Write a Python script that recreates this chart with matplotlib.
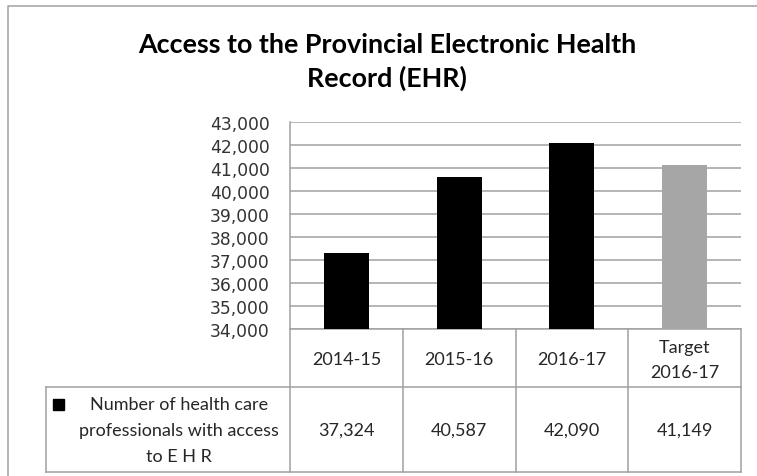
import matplotlib
matplotlib.use("Agg")
import matplotlib.pyplot as plt
from matplotlib.transforms import blended_transform_factory
from matplotlib.patches import Rectangle

# data
categories = ["2014-15", "2015-16", "2016-17", "Target\n2016-17"]
values = [37324, 40587, 42090, 41149]
bar_colors = ["#000000", "#000000", "#000000", "#a6a6a6"]
value_labels = ["37,324", "40,587", "42,090", "41,149"]
series_name = "Number of health care\nprofessionals with access\nto E H R"
title = "Access to the Provincial Electronic Health\nRecord (EHR)"
y_min, y_max, y_step = 34000, 43000, 1000

W, H = 757, 477
grid_col = "#a0a0a0"
txt_col = "#262626"

fig = plt.figure(figsize=(W / 100, H / 100), dpi=100)

# plot area in pixels
left, right, top, bottom = 290, 741, 123, 330
ax = fig.add_axes([left / W, 1 - bottom / H, (right - left) / W, (bottom - top) / H])

x = range(len(values))
ax.bar(x, [v - y_min for v in values], bottom=y_min, width=0.4, color=bar_colors, zorder=3)
ax.set_xlim(-0.5, len(values) - 0.5)
ax.set_ylim(y_min, y_max)
ax.set_yticks(range(y_min, y_max + 1, y_step))
ax.set_yticklabels([f"{t:,}" for t in range(y_min, y_max + 1, y_step)])
ax.tick_params(axis="y", length=0, pad=14.5, labelsize=12.3, labelcolor="#333333")
ax.tick_params(axis="x", length=0, labelbottom=False)
ax.yaxis.grid(True, color=grid_col, linewidth=1.1, zorder=0)
for s in ["top", "right"]:
    ax.spines[s].set_visible(False)
ax.spines["left"].set_color(grid_col)
ax.spines["bottom"].set_color(grid_col)
ax.spines["left"].set_linewidth(1.1)
ax.spines["bottom"].set_linewidth(1.1)

# data table under the chart, columns follow the bar axis
tr = blended_transform_factory(ax.transData, ax.transAxes)
ph = bottom - top
def ya(ypx):
    return (bottom - ypx) / ph

row1, row2 = 388, 473
col_w = (right - left) / len(values)
x_head = -0.5 - (left - 46) / col_w
n = len(values)
kw = dict(color=grid_col, linewidth=1.1, transform=tr, clip_on=False)

# horizontal lines
ax.plot([x_head, n - 0.5], [ya(row1)] * 2, **kw)
ax.plot([x_head, n - 0.5], [ya(row2)] * 2, **kw)
# vertical lines
for i in range(n + 1):
    ax.plot([i - 0.5] * 2, [0, ya(row2)], **kw)
ax.plot([x_head] * 2, [ya(row1), ya(row2)], **kw)

tfont = dict(family="Lato", fontsize=13, color=txt_col, transform=tr,
             ha="center", va="center", clip_on=False)
for i, c in enumerate(categories):
    ax.text(i, ya(360.5), c, linespacing=1.75, **tfont)
    ax.text(i, ya(431), value_labels[i], **tfont)

x_txt = -0.5 - (left - 179) / col_w
ax.text(x_txt, ya(431), series_name, linespacing=1.8, **tfont)
sq = 11
ax.add_patch(Rectangle((-0.5 - (left - 53) / col_w, ya(405 + sq / 2)), sq / col_w, sq / ph,
                       transform=tr, color="black", clip_on=False))

# title
fig.text(387 / W, 1 - 62 / H, title, ha="center", va="center", fontsize=19.4,
         fontweight="bold", family="Lato", linespacing=1.45, color="black")

# outer chart border (left and top edges)
fig.add_artist(plt.Line2D([8 / W, 8 / W, 1], [0, 1 - 7 / H, 1 - 7 / H],
                          color=grid_col, linewidth=1.1, transform=fig.transFigure))

fig.savefig("out.png", dpi=100)
